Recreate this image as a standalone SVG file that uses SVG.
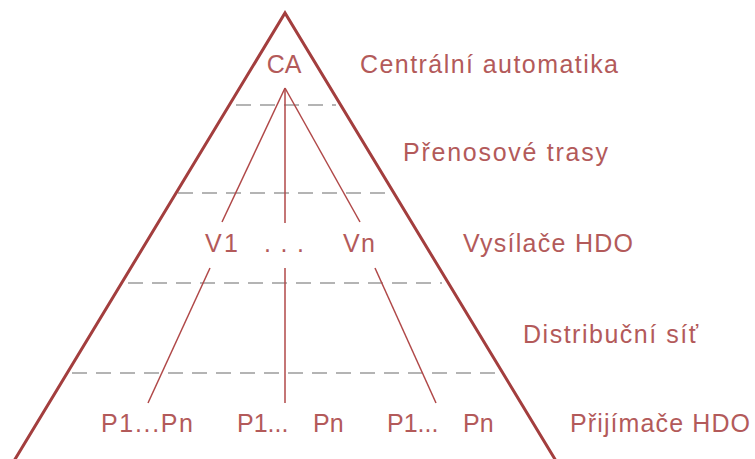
<svg xmlns="http://www.w3.org/2000/svg" width="755" height="459" viewBox="0 0 755 459">
<style>
.t{font-family:"Liberation Sans",Arial,sans-serif;font-size:25px;fill:#b35a5a}
.tri{fill:none;stroke:#a33e3e;stroke-width:3;stroke-linejoin:miter}
.dash{stroke:#b4b4b4;stroke-width:2;stroke-dasharray:15 9;fill:none}
.c{stroke:#b04848;stroke-width:1.5;fill:none}
</style>
<rect width="755" height="459" fill="#ffffff"/>
<g id="layers">
<line class="dash" x1="236" y1="105" x2="336" y2="105"/>
<line class="dash" x1="178" y1="193" x2="393" y2="193"/>
<line class="dash" x1="128" y1="283" x2="442" y2="283"/>
<line class="dash" x1="72" y1="373" x2="500" y2="373"/>
</g>
<g id="pyramid">
<polyline class="tri" points="8.5,470 285,13 561.5,470"/>
</g>
<g id="connectors">
<line class="c" x1="285" y1="88" x2="285" y2="223"/>
<line class="c" x1="285" y1="88" x2="222" y2="222"/>
<line class="c" x1="285" y1="88" x2="360" y2="222"/>
<line class="c" x1="210" y1="268" x2="148" y2="403"/>
<line class="c" x1="285" y1="268" x2="285" y2="403"/>
<line class="c" x1="375" y1="268" x2="436" y2="403"/>
</g>
<g id="CA"><text class="t" x="284" y="73" text-anchor="middle">CA</text></g>
<g id="V1"><text class="t" x="205" y="252" textLength="33" lengthAdjust="spacing">V1</text></g>
<g id="dots"><text class="t" x="264" y="252" textLength="40" lengthAdjust="spacing">. . .</text></g>
<g id="Vn"><text class="t" x="343" y="252" textLength="32" lengthAdjust="spacing">Vn</text></g>
<g id="P1"><text class="t" x="101" y="432" textLength="92" lengthAdjust="spacing">P1...Pn</text></g>
<g id="P2"><text class="t" y="432"><tspan x="237">P1...</tspan><tspan x="313">Pn</tspan></text></g>
<g id="P3"><text class="t" y="432"><tspan x="387">P1...</tspan><tspan x="463">Pn</tspan></text></g>
<g id="labels">
<text class="t" x="360" y="73" textLength="258" lengthAdjust="spacing">Centrální automatika</text>
<text class="t" x="403" y="161" textLength="205" lengthAdjust="spacing">Přenosové trasy</text>
<text class="t" x="463" y="252" textLength="170" lengthAdjust="spacing">Vysílače HDO</text>
<text class="t" x="523" y="343" textLength="175" lengthAdjust="spacing">Distribuční síť</text>
<text class="t" x="570" y="432" textLength="180" lengthAdjust="spacing">Přijímače HDO</text>
</g>
</svg>
